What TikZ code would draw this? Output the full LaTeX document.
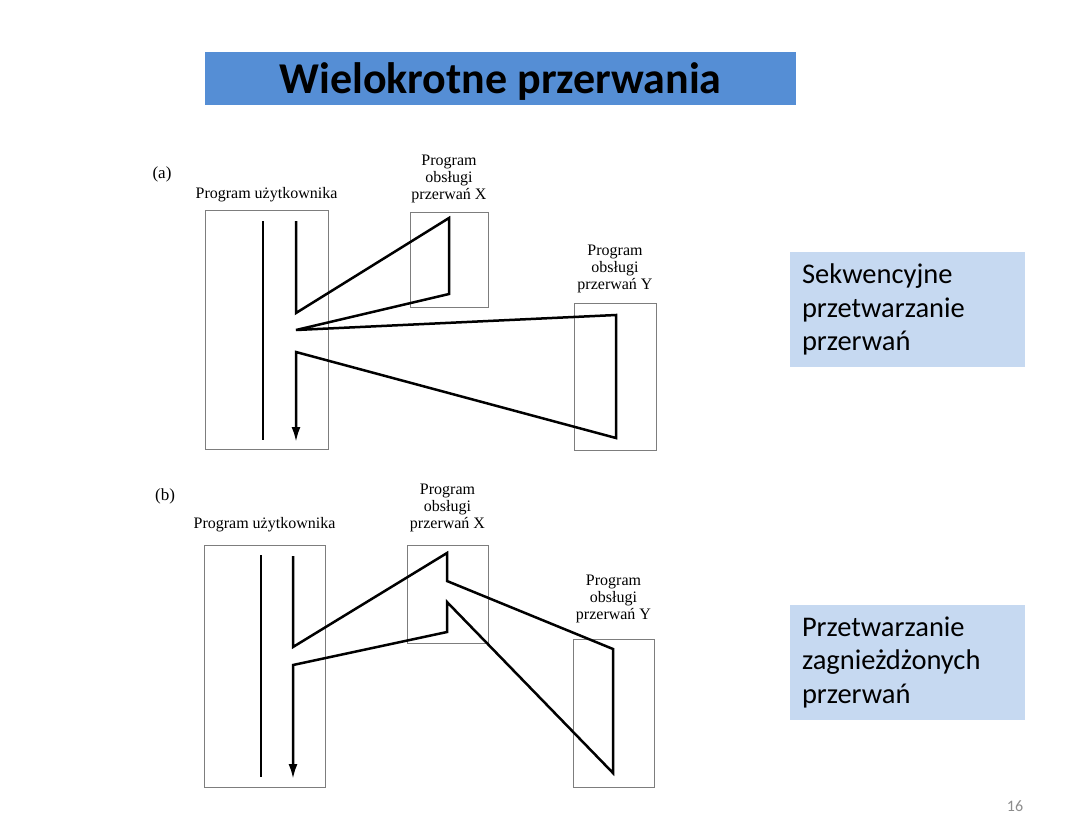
\documentclass[tikz,border=0pt]{standalone}
\usepackage{fontspec}
\setmainfont{Liberation Serif}
\newfontfamily\slidefont{Carlito}
\usepackage{tikz}
\usetikzlibrary{arrows.meta,positioning}
\definecolor{titleblue}{RGB}{85,142,213}
\definecolor{noteblue}{RGB}{198,217,241}
\definecolor{boxgray}{RGB}{125,125,125}
\definecolor{pagegray}{RGB}{140,140,140}

\begin{document}
\begin{tikzpicture}[
  x=1pt, y=-1pt,
  >={Latex[length=15pt,width=9pt]},
  every node/.style={align=center},
  prog/.style  = {draw=boxgray, line width=0.9pt, inner sep=0pt},
  lbl/.style   = {font=\fontsize{16}{17}\selectfont, inner sep=0pt},
  tag/.style   = {font=\fontsize{17}{18}\selectfont, inner sep=0pt},
  flow/.style  = {line width=2.5pt, line join=miter, black},
  titlebox/.style = {fill=titleblue, minimum width=591pt, minimum height=53pt},
  titletxt/.style = {font=\slidefont\bfseries\fontsize{44}{50}\selectfont, inner sep=0pt},
  note/.style  = {fill=noteblue, minimum height=115pt, text width=211pt,
                  inner xsep=12pt, align=left,
                  font=\slidefont\fontsize{28.5}{33.5}\selectfont}
]
\useasboundingbox (0,0) rectangle (1086,836);

\node[titlebox] (title) at (500.5,78.5) {};
\node[titletxt] (titlet) at ([yshift=-3pt]title.center) {Wielokrotne przerwania};

%% ===== (a) sekwencyjne =====
\node[tag] (taga) at (162,174) {(a)};
\node[prog, minimum width=123pt, minimum height=239pt] (ua) at (266.5,329.5) {};
\node[prog, minimum width=78pt, minimum height=95pt] (xa) at (449,259.5) {};
\node[prog, minimum width=82pt, minimum height=147pt] (ya) at (615,376.5) {};
\node[lbl, above=7pt of ua] (ual) {Program użytkownika};
\node[lbl, above=8pt of xa] (xal) {Program\\obsługi\\przerwań X};
\node[lbl, above=9pt of ya] (yal) {Program\\obsługi\\przerwań Y};

\coordinate (a0) at (296,221);
\coordinate (a1) at (296,313);
\coordinate (a2) at (449,218);
\coordinate (a3) at (449,294);
\coordinate (a4) at (296,330);
\coordinate (a5) at (616,315);
\coordinate (a6) at (616,438);
\coordinate (a7) at (296,352);
\coordinate (a8) at (296,442);
\coordinate (al0) at (263,221);
\coordinate (al1) at (263,440);

\draw[flow] (al0) -- (al1);
\draw[flow, ->] (a0) -- (a1) -- (a2) -- (a3) -- (a4) -- (a5) -- (a6) -- (a7) -- (a8);

%% ===== (b) zagniezdzone =====
\node[tag] (tagb) at (165,496) {(b)};
\node[prog, minimum width=121pt, minimum height=242pt] (ub) at (264.5,666) {};
\node[prog, minimum width=81pt, minimum height=98pt] (xb) at (447.5,594) {};
\node[prog, minimum width=81pt, minimum height=148pt] (yb) at (613.5,713) {};
\node[lbl, above=12pt of ub] (ubl) {Program użytkownika};
\node[lbl, above=12pt of xb] (xbl) {Program\\obsługi\\przerwań X};
\node[lbl, above=15pt of yb] (ybl) {Program\\obsługi\\przerwań Y};

\coordinate (b0) at (293,556);
\coordinate (b1) at (293,647);
\coordinate (b2) at (447,553);
\coordinate (b3) at (447,581);
\coordinate (b4) at (613,649);
\coordinate (b5) at (613,773);
\coordinate (b6) at (447,602);
\coordinate (b7) at (447,632);
\coordinate (b8) at (293,665);
\coordinate (b9) at (293,779);
\coordinate (bl0) at (261,555);
\coordinate (bl1) at (261,777);

\draw[flow] (bl0) -- (bl1);
\draw[flow, ->] (b0) -- (b1) -- (b2) -- (b3) -- (b4) -- (b5) -- (b6) -- (b7) -- (b8) -- (b9);

%% ===== opisy =====
\node[note] (seq) at (907.5,309.5) {Sekwencyjne\\przetwarzanie\\przerwań};
\node[note] (nest) at (907.5,662) {Przetwarzanie\\zagnieżdżonych\\przerwań};

\node[font=\slidefont\fontsize{16}{18}\selectfont, text=pagegray] (pg) at (1015,806) {16};

\end{tikzpicture}
\end{document}
